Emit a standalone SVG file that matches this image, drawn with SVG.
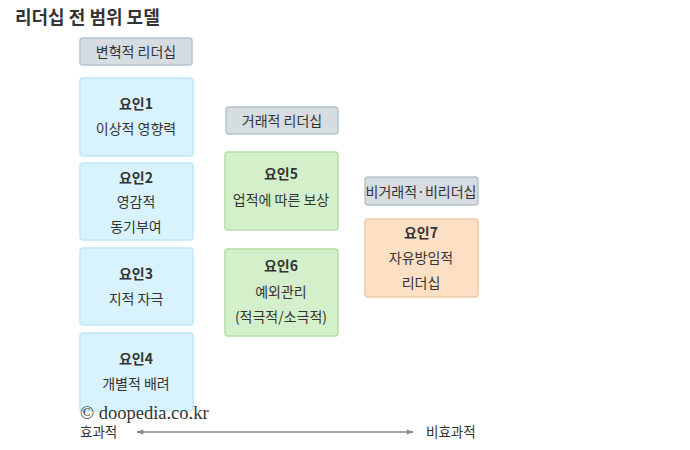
<svg xmlns="http://www.w3.org/2000/svg" width="690" height="450" viewBox="0 0 690 450">
<style>
text{font-family:"Noto Sans CJK KR","Noto Sans",sans-serif;fill:#333;}
.t{font-size:14px;text-anchor:middle;}
.b{font-weight:bold;}
.hd{fill:#d5dde2;stroke:#b6c4cd;stroke-width:1.5;}
.bl{fill:#d8f3fd;stroke:#bfe8f8;stroke-width:1.5;}
.gr{fill:#d3f0ca;stroke:#b3dea5;stroke-width:1.5;}
.or{fill:#fde0c4;stroke:#eccaa6;stroke-width:1.5;}
</style>
<defs>
<marker id="ah" viewBox="0 0 10 10" refX="9" refY="5" markerWidth="8" markerHeight="7" orient="auto-start-reverse" markerUnits="userSpaceOnUse">
<path d="M0,1.5 L10,5 L0,8.5 Z" fill="#888"/>
</marker>
</defs>
<rect width="690" height="450" fill="#fff"/>
<text x="15" y="24" font-size="18" font-weight="bold" fill="#222">리더십 전 범위 모델</text>
<g id="h1"><rect class="hd" x="80" y="38" width="112" height="27" rx="3"/><text class="t" x="136" y="57">변혁적 리더십</text></g>
<g id="f1"><rect class="bl" x="80" y="78" width="113" height="78" rx="3"/><text class="t b" x="136" y="109">요인1</text><text class="t" x="136" y="134">이상적 영향력</text></g>
<g id="f2"><rect class="bl" x="80" y="163" width="113" height="77" rx="3"/><text class="t b" x="136" y="183">요인2</text><text class="t" x="136" y="207">영감적</text><text class="t" x="136" y="232">동기부여</text></g>
<g id="f3"><rect class="bl" x="80" y="248" width="113" height="77" rx="3"/><text class="t b" x="136" y="279">요인3</text><text class="t" x="136" y="304">지적 자극</text></g>
<g id="f4"><rect class="bl" x="80" y="333" width="113" height="78" rx="3"/><text class="t b" x="136" y="364">요인4</text><text class="t" x="136" y="389">개별적 배려</text></g>
<g id="h2"><rect class="hd" x="226" y="107" width="112" height="27" rx="3"/><text class="t" x="282" y="126">거래적 리더십</text></g>
<g id="f5"><rect class="gr" x="225" y="152" width="113" height="78" rx="3"/><text class="t b" x="281" y="179">요인5</text><text class="t" x="281" y="205">업적에 따른 보상</text></g>
<g id="f6"><rect class="gr" x="225" y="249" width="113" height="87" rx="3"/><text class="t b" x="281" y="271">요인6</text><text class="t" x="281" y="297">예외관리</text><text class="t" x="281" y="322">(적극적/소극적)</text></g>
<g id="h3"><rect class="hd" x="365" y="177" width="113" height="28" rx="3"/><text class="t" x="421" y="197">비거래적·비리더십</text></g>
<g id="f7"><rect class="or" x="365" y="219" width="113" height="78" rx="3"/><text class="t b" x="421" y="238">요인7</text><text class="t" x="421" y="263">자유방임적</text><text class="t" x="421" y="288">리더십</text></g>
<g id="connectors">
<line x1="137" y1="432" x2="413" y2="432" stroke="#888" stroke-width="1.3" marker-start="url(#ah)" marker-end="url(#ah)"/>
</g>
<text x="80" y="419" font-size="18.5" style="font-family:'Liberation Serif',serif" fill="#333">© doopedia.co.kr</text>
<text x="80" y="437" font-size="13.5">효과적</text>
<text x="426" y="437" font-size="13.5">비효과적</text>
</svg>
